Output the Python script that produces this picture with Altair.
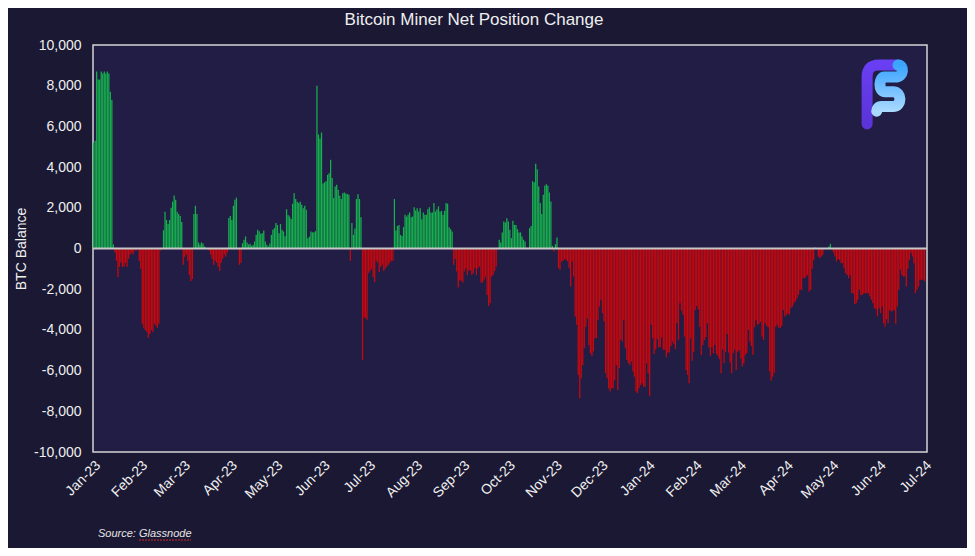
import altair as alt
import pandas as pd
import numpy as np

# ---- daily net position change (BTC), starting 2023-01-01 ----
jan_feb_23 = [5200, 5300, 8700, 8300, 8300, 8700, 8600, 8700, 8600, 8700, 8600, 7700, 7300, 200,
              -200, -600, -1400, -900, -700, -900, -900, -700, -900, -500, -300, -200, -300, -100, -100, 0,
              -600, -1000, -3700, -3900, -4000, -4100, -4400, -4200, -4000, -4100, -3700, -3800, -3900, -3700,
              -100, 0]
mar_apr_23 = [900, 1800, 1400, 1200, 1400, 2000, 2300, 2600, 2400, 1800, 1700, 1600, 1300,
              -800, -400, -300, -600, -1300, -1600, -1500,
              1700, 2100, 1700, 300, 200, 300, 250, 100,
              0,
              0, -100, -300, -500, -800, -600, -700, -900, -1100, -700, -500, -300, -400, -200,
              1500, 1600, 1400, 2100, 2400, 2500,
              0, -800, -700]
apr_jun_23 = [260, 430, 590, 300, 200, 230, 130, 180, 340, 670, 920, 850, 720, 750, 890, 350, 180, 100,
              250, 670, 920, 1000, 1250, 1150, 750, 1200, 920, 840, 600, 1930, 1650, 1570, 1450, 2200,
              2720, 2430, 2300, 2230, 2300, 2150, 1980, 2100, 1900, 500, 580, 840, 790, 800, 850]
jun_jul_23 = [8000, 5600, 5400, 5700, 3200, 3250, 3300, 3620, 3700, 4360, 3460, 2480, 3050, 3130, 2890,
              2590, 2430, 2720, 2750, 2700, 2680, 2640, -600, 1250, 670, 980, 2430, 2670, 2430, 1540,
              -5480, -3400, -3400, -3500, -1200, -1100, -1000, -1400, -1650, -600, -700, -1150, -900, -800,
              -1100, -1000, -900, -800, -700, -600, -600]
aug_sep_23 = [2430, 890, 1110, 1160, 670, 620, 1050, 1660, 1570, 1660, 1770, 1540, 1570, 2030, 1870,
              1980, 1820, 1980, 1440, 1770, 1660, 1660, 1930, 2030, 1770, 1770, 2230, 1820, 1930, 2070,
              1820, 1850, 1660, 1850, 2230, 2200, 1050, 950, 840,
              -800, -520, -1130, -1920, -1570, -1570, -1670, -1130, -970, -1300, -1080, -1080, -1300,
              -1210, -970, -1300, -970, -890, -1670, -1670, -1540, -1380, -2280, -2820, -2690, -1380,
              -1300, -1100, -890]
oct_nov_23 = [0, 430, 300, 790, 1330, 1280, 1490, 1330, 920, 510, 1360, 1160, 1160, 950, 790, 790, 590,
              430, 340, 30, 0, 1000, 1110, 3300, 3250, 4160, 3900, 3050, 2230, 1700, 2640, 3080, 3160,
              3080, 2750, 2310, 130, -150, 210, 540]
nov_dec_23 = [-970, -1050, -640, -600, -520, -560, -640, -970, -1870, -640, -1380, -3340, -3750, -6210,
              -7360, -6380, -5720, -4900, -3840, -3430, -4740, -5150, -5280, -5060, -4410, -4410, -3500,
              -2850, -2520, -3180, -3590, -6130, -6380, -6870, -7030, -6870, -6870, -6460, -5720, -6950,
              -5890, -4490, -4570, -3510, -4900, -5480, -5640, -5720, -5560, -6050, -6300, -7030, -7110,
              -6870, -6700, -6620]
jan_apr_24 = [-6790, -6790, -5640, -6130, -7250, -3750, -4410, -5180, -4950, -4460,
              -4850, -4850, -4360, -4980, -4980, -5340, -5110, -5110, -4790, -4570,
              -4700, -4950, -3670, -4490, -2690, -3050, -3260, -4330, -5970, -6210,
              -6620, -4410, -5510, -5070, -3020, -2820, -2980, -3840, -5230, -4740, -4500,
              -4360, -3670, -4850, -5280, -4850, -5150, -4740, -5180, -5300, -5440,
              -6130, -4950, -5640, -5070, -4200, -5110, -5600, -6130, -5150, -4980,
              -5970, -5070, -5000, -5400, -5800, -5640, -5230, -5150, -4000, -4570,
              -4790, -5230, -3870, -3510, -3750, -3700, -3600, -4330, -4490, -3670,
              -3800, -3870, -6050, -6490, -6300, -6100, -3840, -3750, -3920, -3900]
apr_jul_24 = [-3800, -3020, -3340, -3260, -3180, -3260, -2930, -2850, -2690, -2600,
              -2440, -2280, -2030, -2030, -1460, -1460, -1380, -1300, -2110, -2030,
              -1000, -560, 50, 0, -390, -475, -390, -310, 0, 0,
              0, 100, 230, -65, -200, -390, -640, -520, -560, -720,
              -720, -970, -1210, -1300, -1460, -1300, -2200, -2200, -2740, -2690,
              -2520, -2030, -2280, -2280,
              -2200, -2200, -2200, -2200, -2360, -2520, -2690, -2930, -3000, -3340,
              -2930, -3180, -2850, -3670, -3840, -3480, -3670, -3020, -3100, -3050,
              -3050, -3700, -2850, -2030, -1050, -1300, -1380, -1380, -1870, -1000,
              -560, -230, -390, -720, -2200, -2030, -1870, -1540, -1540, -1540, -1600]

values = (jan_feb_23 + mar_apr_23 + apr_jun_23 + jun_jul_23 + aug_sep_23 +
          oct_nov_23 + nov_dec_23 + jan_apr_24 + apr_jul_24)

title_text = "Bitcoin Miner Net Position Change"
source_text = "Source: Glassnode"
y_title = "BTC Balance"
y_ticks = [-10000, -8000, -6000, -4000, -2000, 0, 2000, 4000, 6000, 8000, 10000]

dates = pd.date_range("2023-01-01", periods=len(values), freq="D")
df = pd.DataFrame({"date": dates, "end": dates + pd.Timedelta(hours=20), "value": values})
df["side"] = np.where(df["value"] >= 0, "up", "down")

W, H = 834, 407
FONT = "Liberation Sans"
BG = "#1a1833"
PLOT = "#211d44"
GREEN = "#16b04e"
RED = "#c8080e"
TXT = "#efefef"

x_scale = alt.Scale(domain=[alt.DateTime(year=2023, month=1, date=1),
                            alt.DateTime(year=2024, month=7, date=3)])
y_scale = alt.Scale(domain=[-10000, 10000], nice=False)

bars = alt.Chart(df).mark_bar().encode(
    x=alt.X("date:T", scale=x_scale,
            axis=alt.Axis(format="%b-%y", tickCount={"interval": "month", "step": 1},
                          labelAngle=-45, labelFontSize=14, labelColor=TXT, labelFont=FONT,
                          ticks=False, domain=False, grid=False, labelPadding=6,
                          labelOverlap=False, title=None)),
    x2="end:T",
    y=alt.Y("value:Q", scale=y_scale, stack=None,
            axis=alt.Axis(values=y_ticks,
                          labelExpr="(datum.value < 0 ? '-' : '') + format(abs(datum.value), ',')",
                          labelFontSize=14, labelColor=TXT, labelFont=FONT, ticks=False,
                          domain=False, grid=False, labelPadding=12,
                          title=y_title, titleFont=FONT, titleFontSize=14, titleFontWeight="normal",
                          titleColor=TXT, titleAngle=270, titleX=-72, titleY=H / 2,
                          titleAlign="center", titleBaseline="middle")),
    y2=alt.datum(0),
    color=alt.Color("side:N", scale=alt.Scale(domain=["up", "down"], range=[GREEN, RED]), legend=None),
)

zero = alt.Chart(pd.DataFrame({"z": [0]})).mark_rule(color="#c8c8c8", strokeWidth=2).encode(
    y=alt.Y("z:Q", scale=y_scale))

title = alt.Chart(pd.DataFrame({"t": [title_text]})).mark_text(
    font=FONT, fontSize=17, color=TXT, align="center", baseline="alphabetic").encode(
    text="t:N", x=alt.value(381), y=alt.value(-20))

source = alt.Chart(pd.DataFrame({"t": [source_text]})).mark_text(
    font=FONT, fontSize=11, fontStyle="italic", color="#e6e6e6", align="left",
    baseline="alphabetic").encode(text="t:N", x=alt.value(5), y=alt.value(492))

squiggle = alt.Chart(pd.DataFrame({"t": [0]})).mark_rule(
    color="#d02828", strokeWidth=1, strokeDash=[2, 1]).encode(
    x=alt.value(46), x2=alt.value(98), y=alt.value(495))

purple_path = "M -0.49 0.83 L -0.49 -0.50 Q -0.49 -0.83 -0.16 -0.83 L 0.38 -0.83"
blue_path = ("M 0.38 -0.83 C 0.56 -0.83 0.56 -0.49 0.30 -0.49 L 0.0 -0.49 "
             "C -0.17 -0.49 -0.17 -0.08 0.0 -0.08 L 0.24 -0.08 C 0.50 -0.08 0.50 0.34 0.24 0.34 "
             "L -0.08 0.34 C -0.18 0.34 -0.22 0.40 -0.22 0.47")

logo_df = pd.DataFrame({"k": [0]})
logo_p = alt.Chart(logo_df).mark_point(
    shape=purple_path, size=5041, filled=False, strokeWidth=11, strokeCap="round",
    strokeJoin="round", opacity=1,
    stroke=alt.Gradient(gradient="linear", x1=0, y1=0, x2=0, y2=1,
                        stops=[alt.GradientStop(offset=0, color="#6a3ef2"),
                               alt.GradientStop(offset=1, color="#5a34d8")])).encode(
    x=alt.value(791.5), y=alt.value(49.5))
logo_b = alt.Chart(logo_df).mark_point(
    shape=blue_path, size=5041, filled=False, strokeWidth=11, strokeCap="round",
    strokeJoin="round", opacity=1,
    stroke=alt.Gradient(gradient="linear", x1=0, y1=0, x2=0, y2=1,
                        stops=[alt.GradientStop(offset=0, color="#3ba4ff"),
                               alt.GradientStop(offset=1, color="#a9d9ff")])).encode(
    x=alt.value(791.5), y=alt.value(49.5))

chart = alt.layer(bars, zero, logo_p, logo_b, title, source, squiggle).properties(
    width=W, height=H,
    autosize=alt.AutoSizeParams(type="none"),
    padding={"left": 85, "top": 37, "right": 40, "bottom": 96},
    background=BG,
).configure_view(fill=PLOT, stroke="#d4d4d4", strokeWidth=1.5)

chart.save("out.html", embed_options={"renderer": "svg", "actions": False})
